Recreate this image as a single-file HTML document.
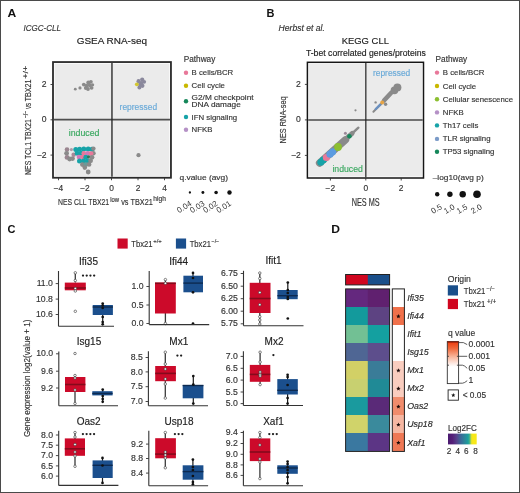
<!DOCTYPE html>
<html><head><meta charset="utf-8"><style>
html,body{margin:0;padding:0;background:#fff;}
svg{display:block;font-family:"Liberation Sans", sans-serif;will-change:transform;}
</style></head><body>
<svg width="520" height="493" viewBox="0 0 520 493">
<rect x="0" y="0" width="520" height="493" fill="#fff"/>
<text x="7.5" y="16.8" font-size="11" fill="#111" font-weight="bold" transform="translate(-0.75,0) scale(1.1,1)">A</text>
<text x="23.6" y="30.8" font-size="8.5" fill="#333" stroke="#333" stroke-width="0.15" font-style="italic" textLength="37.3" lengthAdjust="spacingAndGlyphs">ICGC-CLL</text>
<text x="76.7" y="44.2" font-size="9.5" fill="#222" stroke="#222" stroke-width="0.15" textLength="70.3" lengthAdjust="spacingAndGlyphs">GSEA RNA-seq</text>
<rect x="54.6" y="63.65" width="114.74999999999999" height="112.5" fill="#ebebeb"/>
<circle cx="75.3" cy="89.2" r="1.4" fill="#8a8a8a"/>
<circle cx="80" cy="87.9" r="1.6" fill="#8a8a8a"/>
<circle cx="83.8" cy="84.6" r="1.9" fill="#8a8a8a"/>
<circle cx="85.8" cy="88" r="1.9" fill="#8a8a8a"/>
<circle cx="88.3" cy="82.4" r="2" fill="#8a8a8a"/>
<circle cx="89.8" cy="85.3" r="2" fill="#8a8a8a"/>
<circle cx="91.6" cy="87.8" r="1.9" fill="#8a8a8a"/>
<circle cx="88" cy="89" r="1.9" fill="#8a8a8a"/>
<circle cx="90.9" cy="81.8" r="1.9" fill="#8a8a8a"/>
<circle cx="86.6" cy="85.8" r="2" fill="#8a8a8a"/>
<circle cx="92.6" cy="84.8" r="1.6" fill="#8a8a8a"/>
<circle cx="138.6" cy="81.2" r="2.1" fill="#8a889c"/>
<circle cx="142.2" cy="79.6" r="2.1" fill="#8a889c"/>
<circle cx="144.2" cy="81.8" r="1.9" fill="#8a889c"/>
<circle cx="140.4" cy="84.4" r="2.3" fill="#8a889c"/>
<circle cx="142.4" cy="85.8" r="2.1" fill="#8a889c"/>
<circle cx="139.4" cy="87.4" r="2" fill="#8a889c"/>
<circle cx="141.5" cy="83" r="2" fill="#8a889c"/>
<circle cx="136.8" cy="84.3" r="1.9" fill="#d2c630"/>
<circle cx="67" cy="149.6" r="2.3" fill="#9a8590"/>
<circle cx="66.6" cy="153.3" r="2.4" fill="#8a8a8a"/>
<circle cx="67" cy="157.4" r="2.4" fill="#9a8590"/>
<circle cx="69.6" cy="159" r="2.4" fill="#8a8a8a"/>
<circle cx="72.6" cy="158.6" r="2.3" fill="#8a8a8a"/>
<circle cx="73.6" cy="154.8" r="2.2" fill="#a88898"/>
<circle cx="71.4" cy="149.6" r="1.6" fill="#b09aa8"/>
<circle cx="75.8" cy="149.4" r="2.5" fill="#17a3a8"/>
<circle cx="79.6" cy="149.2" r="2.5" fill="#17a3a8"/>
<circle cx="83.8" cy="149" r="2.5" fill="#17a3a8"/>
<circle cx="88.2" cy="149" r="2.5" fill="#17a3a8"/>
<circle cx="92" cy="149.2" r="2.5" fill="#17a3a8"/>
<circle cx="93.4" cy="148.6" r="2.2" fill="#8a8a8a"/>
<circle cx="93.4" cy="153.3" r="2.3" fill="#8a8a8a"/>
<circle cx="77.2" cy="153.2" r="2.5" fill="#17a3a8"/>
<circle cx="81" cy="153.2" r="2.5" fill="#17a3a8"/>
<circle cx="83.8" cy="153.4" r="2.4" fill="#e8789a"/>
<circle cx="87.7" cy="153.4" r="2.4" fill="#d07ab8"/>
<circle cx="91" cy="153.6" r="2.4" fill="#e8789a"/>
<circle cx="79" cy="157.1" r="2.4" fill="#d07ab8"/>
<circle cx="82.9" cy="157.1" r="2.4" fill="#e8789a"/>
<circle cx="85.8" cy="157.2" r="2.4" fill="#17a3a8"/>
<circle cx="88.7" cy="157" r="1.8" fill="#2a7a5a"/>
<circle cx="92" cy="157.3" r="2.4" fill="#8a8a8a"/>
<circle cx="79.5" cy="161" r="2.5" fill="#17a3a8"/>
<circle cx="83.4" cy="161" r="2.5" fill="#17a3a8"/>
<circle cx="87.2" cy="161" r="2.5" fill="#17a3a8"/>
<circle cx="90.6" cy="160.8" r="2.4" fill="#8a8a8a"/>
<circle cx="82.4" cy="164.6" r="2.4" fill="#8a8a8a"/>
<circle cx="85.8" cy="164.6" r="2.4" fill="#6a9a98"/>
<circle cx="89.1" cy="164.4" r="2.3" fill="#8a8a8a"/>
<circle cx="84.8" cy="167.6" r="2.3" fill="#8a8a8a"/>
<circle cx="88.2" cy="172" r="2.4" fill="#8a8a8a"/>
<circle cx="138.5" cy="155.2" r="2.1" fill="#8a8a8a"/>
<g stroke="#222" stroke-opacity="0.78" stroke-width="1.7"><line x1="111.95" y1="63" x2="111.95" y2="176.8"/><line x1="54" y1="119.7" x2="170" y2="119.7"/></g>
<rect x="53" y="62.05" width="117.94999999999999" height="115.7" fill="none" stroke="#2a2a2a" stroke-width="1.8"/>
<text x="119.6" y="110" font-size="8.5" fill="#6aaad8" stroke="#6aaad8" stroke-width="0.15" textLength="37.5" lengthAdjust="spacingAndGlyphs">repressed</text>
<text x="68.7" y="135.6" font-size="8.5" fill="#3aa860" stroke="#3aa860" stroke-width="0.15" textLength="30.7" lengthAdjust="spacingAndGlyphs">induced</text>
<line x1="58.5" y1="177.75" x2="58.5" y2="180.25" stroke="#333" stroke-width="0.9"/>
<text x="58.5" y="191.1" font-size="8.4" fill="#333" stroke="#333" stroke-width="0.15" text-anchor="middle">−4</text>
<line x1="85.0" y1="177.75" x2="85.0" y2="180.25" stroke="#333" stroke-width="0.9"/>
<text x="85.0" y="191.1" font-size="8.4" fill="#333" stroke="#333" stroke-width="0.15" text-anchor="middle">−2</text>
<line x1="111.5" y1="177.75" x2="111.5" y2="180.25" stroke="#333" stroke-width="0.9"/>
<text x="111.5" y="191.1" font-size="8.4" fill="#333" stroke="#333" stroke-width="0.15" text-anchor="middle">0</text>
<line x1="138.0" y1="177.75" x2="138.0" y2="180.25" stroke="#333" stroke-width="0.9"/>
<text x="138.0" y="191.1" font-size="8.4" fill="#333" stroke="#333" stroke-width="0.15" text-anchor="middle">2</text>
<line x1="164.5" y1="177.75" x2="164.5" y2="180.25" stroke="#333" stroke-width="0.9"/>
<text x="164.5" y="191.1" font-size="8.4" fill="#333" stroke="#333" stroke-width="0.15" text-anchor="middle">4</text>
<line x1="50.5" y1="84.5" x2="53" y2="84.5" stroke="#333" stroke-width="0.9"/>
<text x="46.5" y="87.0" font-size="8.6" fill="#333" stroke="#333" stroke-width="0.15" text-anchor="end">2</text>
<line x1="50.5" y1="119.8" x2="53" y2="119.8" stroke="#333" stroke-width="0.9"/>
<text x="46.5" y="122.3" font-size="8.6" fill="#333" stroke="#333" stroke-width="0.15" text-anchor="end">0</text>
<line x1="50.5" y1="155.1" x2="53" y2="155.1" stroke="#333" stroke-width="0.9"/>
<text x="46.5" y="157.6" font-size="8.6" fill="#333" stroke="#333" stroke-width="0.15" text-anchor="end">−2</text>
<text x="58.0" y="205.4" font-size="9.8" fill="#333" stroke="#333" stroke-width="0.15" textLength="51.2" lengthAdjust="spacingAndGlyphs">NES CLL TBX21</text>
<text x="110.2" y="201.7" font-size="6.6" fill="#333" stroke="#333" stroke-width="0.15" textLength="8.9" lengthAdjust="spacingAndGlyphs">low</text>
<text x="121.2" y="205.4" font-size="9.8" fill="#333" stroke="#333" stroke-width="0.15" textLength="31.6" lengthAdjust="spacingAndGlyphs">vs TBX21</text>
<text x="153.3" y="201.2" font-size="6.6" fill="#333" stroke="#333" stroke-width="0.15" textLength="12.6" lengthAdjust="spacingAndGlyphs">high</text>
<g transform="translate(31.4,174.9) rotate(-90)" fill="#333" stroke="#333" stroke-width="0.15"><text x="0" y="0" font-size="9.9" textLength="55.8" lengthAdjust="spacingAndGlyphs">NES TCL1 TBX21</text><text x="56.6" y="-3.4" font-size="7" textLength="7.4" lengthAdjust="spacingAndGlyphs">−/−</text><text x="65.8" y="0" font-size="9.9" textLength="6.2" lengthAdjust="spacingAndGlyphs">vs</text><text x="73.6" y="0" font-size="9.9" textLength="21.8" lengthAdjust="spacingAndGlyphs">TBX21</text><text x="96.2" y="-3.4" font-size="7" textLength="13" lengthAdjust="spacingAndGlyphs">+/+</text></g>
<text x="183.7" y="62.4" font-size="8.5" fill="#333" stroke="#333" stroke-width="0.15" textLength="31.6" lengthAdjust="spacingAndGlyphs">Pathway</text>
<circle cx="186" cy="72.8" r="2.2" fill="#e8789a"/>
<text x="191.6" y="75.3" font-size="7.8" fill="#333" stroke="#333" stroke-width="0.15">B cells/BCR</text>
<circle cx="186" cy="85.8" r="2.2" fill="#c9b800"/>
<text x="191.6" y="88.3" font-size="7.8" fill="#333" stroke="#333" stroke-width="0.15">Cell cycle</text>
<circle cx="186" cy="101.3" r="2.2" fill="#15875a"/>
<circle cx="186" cy="117" r="2.2" fill="#17a3a8"/>
<text x="191.6" y="119.5" font-size="7.8" fill="#333" stroke="#333" stroke-width="0.15">IFN signaling</text>
<circle cx="186" cy="129.8" r="2.2" fill="#b591c6"/>
<text x="191.6" y="132.3" font-size="7.8" fill="#333" stroke="#333" stroke-width="0.15">NFKB</text>
<text x="191.6" y="99.8" font-size="7.9" fill="#333" stroke="#333" stroke-width="0.15" textLength="62" lengthAdjust="spacingAndGlyphs">G2/M checkpoint</text>
<text x="191.6" y="107.3" font-size="7.9" fill="#333" stroke="#333" stroke-width="0.15" textLength="49.2" lengthAdjust="spacingAndGlyphs">DNA damage</text>
<text x="179.5" y="179.8" font-size="8" fill="#333" stroke="#333" stroke-width="0.15" textLength="48.5" lengthAdjust="spacingAndGlyphs">q.value (avg)</text>
<circle cx="189.9" cy="192.5" r="1.15" fill="#111"/>
<text transform="translate(192.20000000000002,205) rotate(-32)" font-size="8" fill="#333" text-anchor="end">0.04</text>
<circle cx="202.9" cy="192.5" r="1.45" fill="#111"/>
<text transform="translate(205.20000000000002,205) rotate(-32)" font-size="8" fill="#333" text-anchor="end">0.03</text>
<circle cx="216.1" cy="192.5" r="1.8" fill="#111"/>
<text transform="translate(218.4,205) rotate(-32)" font-size="8" fill="#333" text-anchor="end">0.02</text>
<circle cx="229.5" cy="192.5" r="2.2" fill="#111"/>
<text transform="translate(231.8,205) rotate(-32)" font-size="8" fill="#333" text-anchor="end">0.01</text>
<text x="266.6" y="16.7" font-size="11" fill="#111" font-weight="bold">B</text>
<text x="278.6" y="30.9" font-size="8.8" fill="#333" stroke="#333" stroke-width="0.15" font-style="italic" textLength="46.3" lengthAdjust="spacingAndGlyphs">Herbst et al.</text>
<text x="341.7" y="44" font-size="9.5" fill="#222" stroke="#222" stroke-width="0.15" textLength="47.2" lengthAdjust="spacingAndGlyphs">KEGG CLL</text>
<text x="305.9" y="56.4" font-size="8.5" fill="#222" stroke="#222" stroke-width="0.15" textLength="120" lengthAdjust="spacingAndGlyphs">T-bet correlated genes/proteins</text>
<rect x="308.9" y="63.8" width="113.10000000000002" height="112.7" fill="#ebebeb"/>
<path d="M319.6 163 L345.5 139.8" stroke="#8a8a8a" stroke-width="7.4" stroke-linecap="round" fill="none"/>
<path d="M343 141.5 L352.2 133.4" stroke="#8a8a8a" stroke-width="4.8" stroke-linecap="round" fill="none"/>
<path d="M350 135.5 L358.4 127.7" stroke="#8a8a8a" stroke-width="2.4" stroke-linecap="round" fill="none"/>
<circle cx="320.8" cy="162.2" r="3.5" fill="#17a3a8"/>
<circle cx="323.2" cy="160" r="3.6" fill="#17a3a8"/>
<circle cx="326.4" cy="157.5" r="3.6" fill="#e8789a"/>
<circle cx="330" cy="154.2" r="3.6" fill="#5b9be0"/>
<circle cx="332.6" cy="151.8" r="3.6" fill="#5b9be0"/>
<circle cx="338" cy="147" r="3.9" fill="#8cbf30"/>
<circle cx="349.4" cy="136.3" r="2.3" fill="#15875a"/>
<circle cx="345.4" cy="133.3" r="1.5" fill="#9a8898"/>
<path d="M373.4 111.8 L384 101" stroke="#8a8a8a" stroke-width="2" stroke-linecap="round" fill="none"/>
<path d="M375.8 109 L380.5 104.4" stroke="#6a90c0" stroke-width="2.4" stroke-linecap="round" fill="none"/>
<path d="M384 100.5 L391 93" stroke="#8a8a8a" stroke-width="4.6" stroke-linecap="round" fill="none"/>
<circle cx="385.6" cy="104.2" r="1.7" fill="#8a8a8a"/>
<circle cx="382.2" cy="102.4" r="2.0" fill="#e6a445"/>
<circle cx="394.4" cy="90.4" r="3.8" fill="#8a8a8a"/>
<circle cx="397.4" cy="87.5" r="4.0" fill="#8a8a8a"/>
<circle cx="375.6" cy="102.4" r="1.2" fill="#8a8a8a"/>
<circle cx="355.5" cy="110.3" r="1.1" fill="#8a8a8a"/>
<g stroke="#222" stroke-opacity="0.8" stroke-width="1.5"><line x1="365.8" y1="63" x2="365.8" y2="177.2"/><line x1="308.2" y1="120.0" x2="422.7" y2="120.0"/></g>
<rect x="307.4" y="62.3" width="116.10000000000002" height="115.7" fill="none" stroke="#151515" stroke-width="1.5"/>
<text x="373" y="76" font-size="8.5" fill="#6aaad8" stroke="#6aaad8" stroke-width="0.15" textLength="37.3" lengthAdjust="spacingAndGlyphs">repressed</text>
<text x="332.4" y="172" font-size="8.5" fill="#3aa860" stroke="#3aa860" stroke-width="0.15" textLength="30.5" lengthAdjust="spacingAndGlyphs">induced</text>
<line x1="330.40000000000003" y1="178" x2="330.40000000000003" y2="180.5" stroke="#333" stroke-width="0.9"/>
<text x="330.40000000000003" y="191.1" font-size="8.4" fill="#333" stroke="#333" stroke-width="0.15" text-anchor="middle">−2</text>
<line x1="365.8" y1="178" x2="365.8" y2="180.5" stroke="#333" stroke-width="0.9"/>
<text x="365.8" y="191.1" font-size="8.4" fill="#333" stroke="#333" stroke-width="0.15" text-anchor="middle">0</text>
<line x1="401.2" y1="178" x2="401.2" y2="180.5" stroke="#333" stroke-width="0.9"/>
<text x="401.2" y="191.1" font-size="8.4" fill="#333" stroke="#333" stroke-width="0.15" text-anchor="middle">2</text>
<line x1="304.9" y1="84.4" x2="307.4" y2="84.4" stroke="#333" stroke-width="0.9"/>
<text x="300.8" y="86.9" font-size="8.6" fill="#333" stroke="#333" stroke-width="0.15" text-anchor="end">2</text>
<line x1="304.9" y1="119.9" x2="307.4" y2="119.9" stroke="#333" stroke-width="0.9"/>
<text x="300.8" y="122.4" font-size="8.6" fill="#333" stroke="#333" stroke-width="0.15" text-anchor="end">0</text>
<line x1="304.9" y1="155.4" x2="307.4" y2="155.4" stroke="#333" stroke-width="0.9"/>
<text x="300.8" y="157.9" font-size="8.6" fill="#333" stroke="#333" stroke-width="0.15" text-anchor="end">−2</text>
<text x="365.7" y="206" font-size="10.3" fill="#333" stroke="#333" stroke-width="0.15" text-anchor="middle" textLength="28" lengthAdjust="spacingAndGlyphs">NES MS</text>
<text transform="translate(286.2,143.4) rotate(-90)" font-size="9.6" fill="#333" stroke="#333" stroke-width="0.15" textLength="47" lengthAdjust="spacingAndGlyphs">NES RNA-seq</text>
<text x="435.6" y="62" font-size="8.5" fill="#333" stroke="#333" stroke-width="0.15" textLength="31.6" lengthAdjust="spacingAndGlyphs">Pathway</text>
<circle cx="437" cy="72.6" r="2.2" fill="#e8789a"/>
<text x="442.8" y="75.1" font-size="7.8" fill="#333" stroke="#333" stroke-width="0.15">B cells/BCR</text>
<circle cx="437" cy="86" r="2.2" fill="#c9b800"/>
<text x="442.8" y="88.5" font-size="7.8" fill="#333" stroke="#333" stroke-width="0.15">Cell cycle</text>
<circle cx="437" cy="99.3" r="2.2" fill="#8cbf30"/>
<text x="442.8" y="101.8" font-size="7.8" fill="#333" stroke="#333" stroke-width="0.15">Cellular senescence</text>
<circle cx="437" cy="112.4" r="2.2" fill="#b591c6"/>
<text x="442.8" y="114.9" font-size="7.8" fill="#333" stroke="#333" stroke-width="0.15">NFKB</text>
<circle cx="437" cy="125.4" r="2.2" fill="#17a3a8"/>
<text x="442.8" y="127.9" font-size="7.8" fill="#333" stroke="#333" stroke-width="0.15">Th17 cells</text>
<circle cx="437" cy="138.9" r="2.2" fill="#7b9bc8"/>
<text x="442.8" y="141.4" font-size="7.8" fill="#333" stroke="#333" stroke-width="0.15">TLR signaling</text>
<circle cx="437" cy="151.8" r="2.2" fill="#15875a"/>
<text x="442.8" y="154.3" font-size="7.8" fill="#333" stroke="#333" stroke-width="0.15">TP53 signaling</text>
<text x="432.7" y="179.7" font-size="8" fill="#333" stroke="#333" stroke-width="0.15" textLength="51" lengthAdjust="spacingAndGlyphs">–log10(avg p)</text>
<circle cx="437.2" cy="194.2" r="2.2" fill="#111"/>
<text transform="translate(442.7,208.5) rotate(-30)" font-size="8" fill="#333" text-anchor="end">0.5</text>
<circle cx="449.9" cy="194.2" r="2.7" fill="#111"/>
<text transform="translate(455.4,208.5) rotate(-30)" font-size="8" fill="#333" text-anchor="end">1.0</text>
<circle cx="462.7" cy="194.2" r="3.2" fill="#111"/>
<text transform="translate(468.2,208.5) rotate(-30)" font-size="8" fill="#333" text-anchor="end">1.5</text>
<circle cx="477" cy="194.2" r="3.8" fill="#111"/>
<text transform="translate(482.5,208.5) rotate(-30)" font-size="8" fill="#333" text-anchor="end">2.0</text>
<text x="7.5" y="233.3" font-size="11" fill="#111" font-weight="bold">C</text>
<rect x="117.5" y="238.5" width="10.2" height="10.1" fill="#cc0a2a"/>
<text x="131.3" y="246.6" font-size="8.6" fill="#333" stroke="#333" stroke-width="0.15" textLength="21.2" lengthAdjust="spacingAndGlyphs">Tbx21</text>
<text x="153.2" y="243.4" font-size="6" fill="#333" stroke="#333" stroke-width="0.15" textLength="8.6" lengthAdjust="spacingAndGlyphs">+/+</text>
<rect x="175.9" y="238.5" width="10.2" height="10.1" fill="#1b4f8d"/>
<text x="189.7" y="246.6" font-size="8.6" fill="#333" stroke="#333" stroke-width="0.15" textLength="21.2" lengthAdjust="spacingAndGlyphs">Tbx21</text>
<text x="211.6" y="243.4" font-size="6" fill="#333" stroke="#333" stroke-width="0.15" textLength="7.6" lengthAdjust="spacingAndGlyphs">−/−</text>
<text transform="translate(30.1,378.2) rotate(-90)" font-size="8.5" fill="#333" stroke="#333" stroke-width="0.15" text-anchor="middle" textLength="117.5" lengthAdjust="spacingAndGlyphs">Gene expression log2(value + 1)</text>
<text x="88.5" y="264.6" font-size="10" fill="#222" stroke="#222" stroke-width="0.15" text-anchor="middle">Ifi35</text>
<line x1="55.7" y1="283.6" x2="58.5" y2="283.6" stroke="#333" stroke-width="0.9"/>
<text x="52.9" y="286.20000000000005" font-size="8.7" fill="#333" stroke="#333" stroke-width="0.15" text-anchor="end">11.0</text>
<line x1="55.7" y1="299.1" x2="58.5" y2="299.1" stroke="#333" stroke-width="0.9"/>
<text x="52.9" y="301.70000000000005" font-size="8.7" fill="#333" stroke="#333" stroke-width="0.15" text-anchor="end">10.8</text>
<line x1="55.7" y1="314.5" x2="58.5" y2="314.5" stroke="#333" stroke-width="0.9"/>
<text x="52.9" y="317.1" font-size="8.7" fill="#333" stroke="#333" stroke-width="0.15" text-anchor="end">10.6</text>
<line x1="75.3" y1="272.8" x2="75.3" y2="282.6" stroke="#3a3a3a" stroke-width="1.3"/>
<rect x="64.8" y="282.6" width="21.0" height="7.699999999999989" fill="#cc0a2a"/>
<line x1="64.8" y1="288" x2="85.8" y2="288" stroke="#850a1c" stroke-width="1.6"/>
<circle cx="75.3" cy="272.8" r="1.25" fill="#fff" stroke="#333" stroke-width="0.6"/>
<circle cx="75.3" cy="280.5" r="1.25" fill="#fff" stroke="#333" stroke-width="0.6"/>
<circle cx="75.3" cy="288.5" r="1.25" fill="#fff" stroke="#333" stroke-width="0.6"/>
<circle cx="75.3" cy="291" r="1.25" fill="#fff" stroke="#333" stroke-width="0.6"/>
<circle cx="75.3" cy="311.3" r="1.25" fill="#fff" stroke="#333" stroke-width="0.6"/>
<line x1="102.7" y1="303" x2="102.7" y2="324.3" stroke="#1a1a1a" stroke-width="1.2"/>
<rect x="92.7" y="305" width="20.200000000000003" height="10" fill="#1b4f8d"/>
<line x1="92.7" y1="307" x2="112.9" y2="307" stroke="#0d2a50" stroke-width="1.4"/>
<circle cx="102.7" cy="303.5" r="1.35" fill="#111"/>
<circle cx="102.7" cy="305.5" r="1.35" fill="#111"/>
<circle cx="102.7" cy="308" r="1.35" fill="#111"/>
<circle cx="102.7" cy="317" r="1.35" fill="#111"/>
<circle cx="102.7" cy="322" r="1.35" fill="#111"/>
<circle cx="102.7" cy="324.3" r="1.35" fill="#111"/>
<line x1="58.5" y1="271" x2="58.5" y2="326.3" stroke="#333" stroke-width="1.1"/>
<line x1="58.5" y1="326.3" x2="114" y2="326.3" stroke="#333" stroke-width="1.1"/>
<circle cx="83.0" cy="275.6" r="1.15" fill="#1e1e1e"/>
<circle cx="86.72" cy="275.6" r="1.15" fill="#1e1e1e"/>
<circle cx="90.44" cy="275.6" r="1.15" fill="#1e1e1e"/>
<circle cx="94.16" cy="275.6" r="1.15" fill="#1e1e1e"/>
<text x="178.6" y="264.6" font-size="10" fill="#222" stroke="#222" stroke-width="0.15" text-anchor="middle">Ifi44</text>
<line x1="146.39999999999998" y1="286.5" x2="149.2" y2="286.5" stroke="#333" stroke-width="0.9"/>
<text x="143.6" y="289.1" font-size="8.7" fill="#333" stroke="#333" stroke-width="0.15" text-anchor="end">1.0</text>
<line x1="146.39999999999998" y1="305" x2="149.2" y2="305" stroke="#333" stroke-width="0.9"/>
<text x="143.6" y="307.6" font-size="8.7" fill="#333" stroke="#333" stroke-width="0.15" text-anchor="end">0.5</text>
<line x1="146.39999999999998" y1="323.5" x2="149.2" y2="323.5" stroke="#333" stroke-width="0.9"/>
<text x="143.6" y="326.1" font-size="8.7" fill="#333" stroke="#333" stroke-width="0.15" text-anchor="end">0.0</text>
<line x1="165.4" y1="279.6" x2="165.4" y2="323.5" stroke="#3a3a3a" stroke-width="1.3"/>
<rect x="155" y="282.6" width="20.80000000000001" height="30.899999999999977" fill="#cc0a2a"/>
<line x1="155" y1="283.3" x2="175.8" y2="283.3" stroke="#850a1c" stroke-width="1.6"/>
<circle cx="165.4" cy="279.6" r="1.25" fill="#fff" stroke="#333" stroke-width="0.6"/>
<circle cx="165.4" cy="283.3" r="1.25" fill="#fff" stroke="#333" stroke-width="0.6"/>
<circle cx="165.4" cy="323.5" r="1.25" fill="#fff" stroke="#333" stroke-width="0.6"/>
<line x1="193" y1="272.7" x2="193" y2="292.3" stroke="#1a1a1a" stroke-width="1.2"/>
<rect x="183.4" y="275.7" width="19.599999999999994" height="16.600000000000023" fill="#1b4f8d"/>
<line x1="183.4" y1="283.1" x2="203" y2="283.1" stroke="#0d2a50" stroke-width="1.4"/>
<circle cx="193" cy="272.9" r="1.35" fill="#111"/>
<circle cx="193" cy="278" r="1.35" fill="#111"/>
<circle cx="193" cy="292.3" r="1.35" fill="#111"/>
<circle cx="193" cy="323.5" r="1.35" fill="#111"/>
<line x1="149.2" y1="271" x2="149.2" y2="324.6" stroke="#333" stroke-width="1.1"/>
<line x1="149.2" y1="324.6" x2="209.2" y2="324.6" stroke="#333" stroke-width="1.1"/>
<text x="273.5" y="264.3" font-size="10" fill="#222" stroke="#222" stroke-width="0.15" text-anchor="middle">Ifit1</text>
<line x1="240.7" y1="273.5" x2="243.5" y2="273.5" stroke="#333" stroke-width="0.9"/>
<text x="237.9" y="276.1" font-size="8.7" fill="#333" stroke="#333" stroke-width="0.15" text-anchor="end">6.75</text>
<line x1="240.7" y1="286.2" x2="243.5" y2="286.2" stroke="#333" stroke-width="0.9"/>
<text x="237.9" y="288.8" font-size="8.7" fill="#333" stroke="#333" stroke-width="0.15" text-anchor="end">6.50</text>
<line x1="240.7" y1="298.7" x2="243.5" y2="298.7" stroke="#333" stroke-width="0.9"/>
<text x="237.9" y="301.3" font-size="8.7" fill="#333" stroke="#333" stroke-width="0.15" text-anchor="end">6.25</text>
<line x1="240.7" y1="311.2" x2="243.5" y2="311.2" stroke="#333" stroke-width="0.9"/>
<text x="237.9" y="313.8" font-size="8.7" fill="#333" stroke="#333" stroke-width="0.15" text-anchor="end">6.00</text>
<line x1="240.7" y1="323.8" x2="243.5" y2="323.8" stroke="#333" stroke-width="0.9"/>
<text x="237.9" y="326.40000000000003" font-size="8.7" fill="#333" stroke="#333" stroke-width="0.15" text-anchor="end">5.75</text>
<line x1="259.8" y1="273" x2="259.8" y2="324.5" stroke="#3a3a3a" stroke-width="1.3"/>
<rect x="249.7" y="282.8" width="20.80000000000001" height="30.19999999999999" fill="#cc0a2a"/>
<line x1="249.7" y1="298.5" x2="270.5" y2="298.5" stroke="#850a1c" stroke-width="1.6"/>
<circle cx="259.8" cy="273" r="1.25" fill="#fff" stroke="#333" stroke-width="0.6"/>
<circle cx="259.8" cy="278.5" r="1.25" fill="#fff" stroke="#333" stroke-width="0.6"/>
<circle cx="259.8" cy="292.5" r="1.25" fill="#fff" stroke="#333" stroke-width="0.6"/>
<circle cx="259.8" cy="304.7" r="1.25" fill="#fff" stroke="#333" stroke-width="0.6"/>
<circle cx="259.8" cy="316.7" r="1.25" fill="#fff" stroke="#333" stroke-width="0.6"/>
<circle cx="259.8" cy="320" r="1.25" fill="#fff" stroke="#333" stroke-width="0.6"/>
<circle cx="259.8" cy="324" r="1.25" fill="#fff" stroke="#333" stroke-width="0.6"/>
<line x1="287.8" y1="282.5" x2="287.8" y2="299.2" stroke="#1a1a1a" stroke-width="1.2"/>
<rect x="277.4" y="290" width="20.30000000000001" height="9.199999999999989" fill="#1b4f8d"/>
<line x1="277.4" y1="295.7" x2="297.7" y2="295.7" stroke="#0d2a50" stroke-width="1.4"/>
<circle cx="287.8" cy="282.5" r="1.35" fill="#111"/>
<circle cx="287.8" cy="290" r="1.35" fill="#111"/>
<circle cx="287.8" cy="293" r="1.35" fill="#111"/>
<circle cx="287.8" cy="297" r="1.35" fill="#111"/>
<circle cx="287.8" cy="299" r="1.35" fill="#111"/>
<circle cx="287.8" cy="318.5" r="1.35" fill="#111"/>
<line x1="243.5" y1="270.8" x2="243.5" y2="325.7" stroke="#333" stroke-width="1.1"/>
<line x1="243.5" y1="325.7" x2="303.5" y2="325.7" stroke="#333" stroke-width="1.1"/>
<text x="89" y="344.6" font-size="10" fill="#222" stroke="#222" stroke-width="0.15" text-anchor="middle">Isg15</text>
<line x1="56.0" y1="353.8" x2="58.8" y2="353.8" stroke="#333" stroke-width="0.9"/>
<text x="53.199999999999996" y="356.40000000000003" font-size="8.7" fill="#333" stroke="#333" stroke-width="0.15" text-anchor="end">10.0</text>
<line x1="56.0" y1="371.2" x2="58.8" y2="371.2" stroke="#333" stroke-width="0.9"/>
<text x="53.199999999999996" y="373.8" font-size="8.7" fill="#333" stroke="#333" stroke-width="0.15" text-anchor="end">9.6</text>
<line x1="56.0" y1="388" x2="58.8" y2="388" stroke="#333" stroke-width="0.9"/>
<text x="53.199999999999996" y="390.6" font-size="8.7" fill="#333" stroke="#333" stroke-width="0.15" text-anchor="end">9.2</text>
<line x1="75" y1="375.3" x2="75" y2="403.5" stroke="#3a3a3a" stroke-width="1.3"/>
<rect x="65" y="377" width="20.400000000000006" height="15" fill="#cc0a2a"/>
<line x1="65" y1="384.5" x2="85.4" y2="384.5" stroke="#850a1c" stroke-width="1.6"/>
<circle cx="75" cy="353.5" r="1.25" fill="#fff" stroke="#333" stroke-width="0.6"/>
<circle cx="75" cy="375.5" r="1.25" fill="#fff" stroke="#333" stroke-width="0.6"/>
<circle cx="75" cy="378" r="1.25" fill="#fff" stroke="#333" stroke-width="0.6"/>
<circle cx="75" cy="390" r="1.25" fill="#fff" stroke="#333" stroke-width="0.6"/>
<circle cx="75" cy="403.5" r="1.25" fill="#fff" stroke="#333" stroke-width="0.6"/>
<line x1="102.7" y1="389.6" x2="102.7" y2="401.8" stroke="#1a1a1a" stroke-width="1.2"/>
<rect x="92.3" y="391.2" width="20.299999999999997" height="4.199999999999989" fill="#1b4f8d"/>
<line x1="92.3" y1="393.5" x2="112.6" y2="393.5" stroke="#0d2a50" stroke-width="1.4"/>
<circle cx="102.7" cy="389.6" r="1.35" fill="#111"/>
<circle cx="102.7" cy="396" r="1.35" fill="#111"/>
<circle cx="102.7" cy="399" r="1.35" fill="#111"/>
<circle cx="102.7" cy="401.8" r="1.35" fill="#111"/>
<line x1="58.8" y1="351.5" x2="58.8" y2="405.8" stroke="#333" stroke-width="1.1"/>
<line x1="58.8" y1="405.8" x2="118" y2="405.8" stroke="#333" stroke-width="1.1"/>
<text x="178.8" y="344.8" font-size="10" fill="#222" stroke="#222" stroke-width="0.15" text-anchor="middle">Mx1</text>
<line x1="145.6" y1="357.5" x2="148.4" y2="357.5" stroke="#333" stroke-width="0.9"/>
<text x="142.8" y="360.1" font-size="8.7" fill="#333" stroke="#333" stroke-width="0.15" text-anchor="end">8.5</text>
<line x1="145.6" y1="371.9" x2="148.4" y2="371.9" stroke="#333" stroke-width="0.9"/>
<text x="142.8" y="374.5" font-size="8.7" fill="#333" stroke="#333" stroke-width="0.15" text-anchor="end">8.0</text>
<line x1="145.6" y1="386.7" x2="148.4" y2="386.7" stroke="#333" stroke-width="0.9"/>
<text x="142.8" y="389.3" font-size="8.7" fill="#333" stroke="#333" stroke-width="0.15" text-anchor="end">7.5</text>
<line x1="145.6" y1="401.5" x2="148.4" y2="401.5" stroke="#333" stroke-width="0.9"/>
<text x="142.8" y="404.1" font-size="8.7" fill="#333" stroke="#333" stroke-width="0.15" text-anchor="end">7.0</text>
<line x1="165.3" y1="352.2" x2="165.3" y2="398.1" stroke="#3a3a3a" stroke-width="1.3"/>
<rect x="155.2" y="366" width="20.700000000000017" height="15.199999999999989" fill="#cc0a2a"/>
<line x1="155.2" y1="373.4" x2="175.9" y2="373.4" stroke="#850a1c" stroke-width="1.6"/>
<circle cx="165.3" cy="352.2" r="1.25" fill="#fff" stroke="#333" stroke-width="0.6"/>
<circle cx="165.3" cy="364" r="1.25" fill="#fff" stroke="#333" stroke-width="0.6"/>
<circle cx="165.3" cy="369" r="1.25" fill="#fff" stroke="#333" stroke-width="0.6"/>
<circle cx="165.3" cy="379" r="1.25" fill="#fff" stroke="#333" stroke-width="0.6"/>
<circle cx="165.3" cy="384" r="1.25" fill="#fff" stroke="#333" stroke-width="0.6"/>
<circle cx="165.3" cy="398.1" r="1.25" fill="#fff" stroke="#333" stroke-width="0.6"/>
<line x1="193.3" y1="376.1" x2="193.3" y2="403.6" stroke="#1a1a1a" stroke-width="1.2"/>
<rect x="182.7" y="385" width="20.700000000000017" height="13.300000000000011" fill="#1b4f8d"/>
<line x1="182.7" y1="385.5" x2="203.4" y2="385.5" stroke="#0d2a50" stroke-width="1.4"/>
<circle cx="193.3" cy="376.1" r="1.35" fill="#111"/>
<circle cx="193.3" cy="384.6" r="1.35" fill="#111"/>
<circle cx="193.3" cy="403.6" r="1.35" fill="#111"/>
<line x1="148.4" y1="351.2" x2="148.4" y2="405.7" stroke="#333" stroke-width="1.1"/>
<line x1="148.4" y1="405.7" x2="208" y2="405.7" stroke="#333" stroke-width="1.1"/>
<circle cx="177.4" cy="355.6" r="1.15" fill="#1e1e1e"/>
<circle cx="181.12" cy="355.6" r="1.15" fill="#1e1e1e"/>
<text x="274" y="344.8" font-size="10" fill="#222" stroke="#222" stroke-width="0.15" text-anchor="middle">Mx2</text>
<line x1="240.6" y1="356.4" x2="243.4" y2="356.4" stroke="#333" stroke-width="0.9"/>
<text x="237.8" y="359.0" font-size="8.7" fill="#333" stroke="#333" stroke-width="0.15" text-anchor="end">7.0</text>
<line x1="240.6" y1="368.3" x2="243.4" y2="368.3" stroke="#333" stroke-width="0.9"/>
<text x="237.8" y="370.90000000000003" font-size="8.7" fill="#333" stroke="#333" stroke-width="0.15" text-anchor="end">6.5</text>
<line x1="240.6" y1="380.1" x2="243.4" y2="380.1" stroke="#333" stroke-width="0.9"/>
<text x="237.8" y="382.70000000000005" font-size="8.7" fill="#333" stroke="#333" stroke-width="0.15" text-anchor="end">6.0</text>
<line x1="240.6" y1="392" x2="243.4" y2="392" stroke="#333" stroke-width="0.9"/>
<text x="237.8" y="394.6" font-size="8.7" fill="#333" stroke="#333" stroke-width="0.15" text-anchor="end">5.5</text>
<line x1="240.6" y1="403.6" x2="243.4" y2="403.6" stroke="#333" stroke-width="0.9"/>
<text x="237.8" y="406.20000000000005" font-size="8.7" fill="#333" stroke="#333" stroke-width="0.15" text-anchor="end">5.0</text>
<line x1="260.1" y1="352.2" x2="260.1" y2="384.6" stroke="#3a3a3a" stroke-width="1.3"/>
<rect x="249.8" y="364.9" width="20.5" height="16.900000000000034" fill="#cc0a2a"/>
<line x1="249.8" y1="374.4" x2="270.3" y2="374.4" stroke="#850a1c" stroke-width="1.6"/>
<circle cx="260.1" cy="352.2" r="1.25" fill="#fff" stroke="#333" stroke-width="0.6"/>
<circle cx="260.1" cy="362" r="1.25" fill="#fff" stroke="#333" stroke-width="0.6"/>
<circle cx="260.1" cy="372" r="1.25" fill="#fff" stroke="#333" stroke-width="0.6"/>
<circle cx="260.1" cy="374.5" r="1.25" fill="#fff" stroke="#333" stroke-width="0.6"/>
<circle cx="260.1" cy="376" r="1.25" fill="#fff" stroke="#333" stroke-width="0.6"/>
<circle cx="260.1" cy="384.6" r="1.25" fill="#fff" stroke="#333" stroke-width="0.6"/>
<line x1="287.6" y1="374.8" x2="287.6" y2="403.6" stroke="#1a1a1a" stroke-width="1.2"/>
<rect x="277.3" y="379.1" width="20.5" height="15.399999999999977" fill="#1b4f8d"/>
<line x1="277.3" y1="390.3" x2="297.8" y2="390.3" stroke="#0d2a50" stroke-width="1.4"/>
<circle cx="287.6" cy="374.8" r="1.35" fill="#111"/>
<circle cx="287.6" cy="377" r="1.35" fill="#111"/>
<circle cx="287.6" cy="385" r="1.35" fill="#111"/>
<circle cx="287.6" cy="398" r="1.35" fill="#111"/>
<circle cx="287.6" cy="403.6" r="1.35" fill="#111"/>
<line x1="243.4" y1="351.2" x2="243.4" y2="405.5" stroke="#333" stroke-width="1.1"/>
<line x1="243.4" y1="405.5" x2="303" y2="405.5" stroke="#333" stroke-width="1.1"/>
<circle cx="273.4" cy="355.1" r="1.15" fill="#1e1e1e"/>
<text x="88.7" y="424.5" font-size="10" fill="#222" stroke="#222" stroke-width="0.15" text-anchor="middle">Oas2</text>
<line x1="55.900000000000006" y1="435" x2="58.7" y2="435" stroke="#333" stroke-width="0.9"/>
<text x="53.1" y="437.6" font-size="8.7" fill="#333" stroke="#333" stroke-width="0.15" text-anchor="end">8.0</text>
<line x1="55.900000000000006" y1="445.2" x2="58.7" y2="445.2" stroke="#333" stroke-width="0.9"/>
<text x="53.1" y="447.8" font-size="8.7" fill="#333" stroke="#333" stroke-width="0.15" text-anchor="end">7.5</text>
<line x1="55.900000000000006" y1="455.6" x2="58.7" y2="455.6" stroke="#333" stroke-width="0.9"/>
<text x="53.1" y="458.20000000000005" font-size="8.7" fill="#333" stroke="#333" stroke-width="0.15" text-anchor="end">7.0</text>
<line x1="55.900000000000006" y1="465.9" x2="58.7" y2="465.9" stroke="#333" stroke-width="0.9"/>
<text x="53.1" y="468.5" font-size="8.7" fill="#333" stroke="#333" stroke-width="0.15" text-anchor="end">6.5</text>
<line x1="55.900000000000006" y1="476.1" x2="58.7" y2="476.1" stroke="#333" stroke-width="0.9"/>
<text x="53.1" y="478.70000000000005" font-size="8.7" fill="#333" stroke="#333" stroke-width="0.15" text-anchor="end">6.0</text>
<line x1="75" y1="432.5" x2="75" y2="466.3" stroke="#3a3a3a" stroke-width="1.3"/>
<rect x="64.8" y="438.4" width="20.200000000000003" height="17.400000000000034" fill="#cc0a2a"/>
<line x1="64.8" y1="448.8" x2="85" y2="448.8" stroke="#850a1c" stroke-width="1.6"/>
<circle cx="75" cy="432.5" r="1.25" fill="#fff" stroke="#333" stroke-width="0.6"/>
<circle cx="75" cy="437" r="1.25" fill="#fff" stroke="#333" stroke-width="0.6"/>
<circle cx="75" cy="444.5" r="1.25" fill="#fff" stroke="#333" stroke-width="0.6"/>
<circle cx="75" cy="452" r="1.25" fill="#fff" stroke="#333" stroke-width="0.6"/>
<circle cx="75" cy="456" r="1.25" fill="#fff" stroke="#333" stroke-width="0.6"/>
<circle cx="75" cy="466.3" r="1.25" fill="#fff" stroke="#333" stroke-width="0.6"/>
<line x1="102.5" y1="457.9" x2="102.5" y2="482.9" stroke="#1a1a1a" stroke-width="1.2"/>
<rect x="92.6" y="460.4" width="20.10000000000001" height="17.600000000000023" fill="#1b4f8d"/>
<line x1="92.6" y1="465.3" x2="112.7" y2="465.3" stroke="#0d2a50" stroke-width="1.4"/>
<circle cx="102.5" cy="457.9" r="1.35" fill="#111"/>
<circle cx="102.5" cy="465.5" r="1.35" fill="#111"/>
<circle cx="102.5" cy="482.9" r="1.35" fill="#111"/>
<line x1="58.7" y1="430.8" x2="58.7" y2="485.4" stroke="#333" stroke-width="1.1"/>
<line x1="58.7" y1="485.4" x2="118.4" y2="485.4" stroke="#333" stroke-width="1.1"/>
<circle cx="82.9" cy="434.1" r="1.15" fill="#1e1e1e"/>
<circle cx="86.62" cy="434.1" r="1.15" fill="#1e1e1e"/>
<circle cx="90.34" cy="434.1" r="1.15" fill="#1e1e1e"/>
<circle cx="94.06" cy="434.1" r="1.15" fill="#1e1e1e"/>
<text x="179" y="424.5" font-size="10" fill="#222" stroke="#222" stroke-width="0.15" text-anchor="middle">Usp18</text>
<line x1="146.0" y1="444.1" x2="148.8" y2="444.1" stroke="#333" stroke-width="0.9"/>
<text x="143.20000000000002" y="446.70000000000005" font-size="8.7" fill="#333" stroke="#333" stroke-width="0.15" text-anchor="end">9.2</text>
<line x1="146.0" y1="458.5" x2="148.8" y2="458.5" stroke="#333" stroke-width="0.9"/>
<text x="143.20000000000002" y="461.1" font-size="8.7" fill="#333" stroke="#333" stroke-width="0.15" text-anchor="end">8.8</text>
<line x1="146.0" y1="473.1" x2="148.8" y2="473.1" stroke="#333" stroke-width="0.9"/>
<text x="143.20000000000002" y="475.70000000000005" font-size="8.7" fill="#333" stroke="#333" stroke-width="0.15" text-anchor="end">8.4</text>
<line x1="165.3" y1="432.5" x2="165.3" y2="467.8" stroke="#3a3a3a" stroke-width="1.3"/>
<rect x="155.2" y="438.2" width="20.700000000000017" height="20.100000000000023" fill="#cc0a2a"/>
<line x1="155.2" y1="454.1" x2="175.9" y2="454.1" stroke="#850a1c" stroke-width="1.6"/>
<circle cx="165.3" cy="432.5" r="1.25" fill="#fff" stroke="#333" stroke-width="0.6"/>
<circle cx="165.3" cy="452" r="1.25" fill="#fff" stroke="#333" stroke-width="0.6"/>
<circle cx="165.3" cy="455" r="1.25" fill="#fff" stroke="#333" stroke-width="0.6"/>
<circle cx="165.3" cy="458" r="1.25" fill="#fff" stroke="#333" stroke-width="0.6"/>
<circle cx="165.3" cy="467.8" r="1.25" fill="#fff" stroke="#333" stroke-width="0.6"/>
<line x1="192.9" y1="459.6" x2="192.9" y2="484.3" stroke="#1a1a1a" stroke-width="1.2"/>
<rect x="182.7" y="465.3" width="20.700000000000017" height="14.399999999999977" fill="#1b4f8d"/>
<line x1="182.7" y1="471.6" x2="203.4" y2="471.6" stroke="#0d2a50" stroke-width="1.4"/>
<circle cx="192.9" cy="459.6" r="1.35" fill="#111"/>
<circle cx="192.9" cy="467" r="1.35" fill="#111"/>
<circle cx="192.9" cy="470" r="1.35" fill="#111"/>
<circle cx="192.9" cy="476" r="1.35" fill="#111"/>
<circle cx="192.9" cy="482" r="1.35" fill="#111"/>
<circle cx="192.9" cy="484.3" r="1.35" fill="#111"/>
<line x1="148.8" y1="430.8" x2="148.8" y2="485.8" stroke="#333" stroke-width="1.1"/>
<line x1="148.8" y1="485.8" x2="208.1" y2="485.8" stroke="#333" stroke-width="1.1"/>
<circle cx="174.9" cy="434.1" r="1.15" fill="#1e1e1e"/>
<circle cx="178.62" cy="434.1" r="1.15" fill="#1e1e1e"/>
<circle cx="182.34" cy="434.1" r="1.15" fill="#1e1e1e"/>
<text x="273.5" y="424.5" font-size="10" fill="#222" stroke="#222" stroke-width="0.15" text-anchor="middle">Xaf1</text>
<line x1="240.6" y1="432.5" x2="243.4" y2="432.5" stroke="#333" stroke-width="0.9"/>
<text x="237.8" y="435.1" font-size="8.7" fill="#333" stroke="#333" stroke-width="0.15" text-anchor="end">9.4</text>
<line x1="240.6" y1="443.5" x2="243.4" y2="443.5" stroke="#333" stroke-width="0.9"/>
<text x="237.8" y="446.1" font-size="8.7" fill="#333" stroke="#333" stroke-width="0.15" text-anchor="end">9.2</text>
<line x1="240.6" y1="454.3" x2="243.4" y2="454.3" stroke="#333" stroke-width="0.9"/>
<text x="237.8" y="456.90000000000003" font-size="8.7" fill="#333" stroke="#333" stroke-width="0.15" text-anchor="end">9.0</text>
<line x1="240.6" y1="464.9" x2="243.4" y2="464.9" stroke="#333" stroke-width="0.9"/>
<text x="237.8" y="467.5" font-size="8.7" fill="#333" stroke="#333" stroke-width="0.15" text-anchor="end">8.8</text>
<line x1="240.6" y1="475.4" x2="243.4" y2="475.4" stroke="#333" stroke-width="0.9"/>
<text x="237.8" y="478.0" font-size="8.7" fill="#333" stroke="#333" stroke-width="0.15" text-anchor="end">8.6</text>
<line x1="259.9" y1="432.5" x2="259.9" y2="478.6" stroke="#3a3a3a" stroke-width="1.3"/>
<rect x="249.8" y="438.4" width="20.5" height="22.700000000000045" fill="#cc0a2a"/>
<line x1="249.8" y1="452" x2="270.3" y2="452" stroke="#850a1c" stroke-width="1.6"/>
<circle cx="259.9" cy="432.5" r="1.25" fill="#fff" stroke="#333" stroke-width="0.6"/>
<circle cx="259.9" cy="437.5" r="1.25" fill="#fff" stroke="#333" stroke-width="0.6"/>
<circle cx="259.9" cy="445" r="1.25" fill="#fff" stroke="#333" stroke-width="0.6"/>
<circle cx="259.9" cy="459" r="1.25" fill="#fff" stroke="#333" stroke-width="0.6"/>
<circle cx="259.9" cy="462" r="1.25" fill="#fff" stroke="#333" stroke-width="0.6"/>
<circle cx="259.9" cy="478.6" r="1.25" fill="#fff" stroke="#333" stroke-width="0.6"/>
<line x1="287.6" y1="461.5" x2="287.6" y2="483.3" stroke="#1a1a1a" stroke-width="1.2"/>
<rect x="277.3" y="465.3" width="20.5" height="8.5" fill="#1b4f8d"/>
<line x1="277.3" y1="468" x2="297.8" y2="468" stroke="#0d2a50" stroke-width="1.4"/>
<circle cx="287.6" cy="461.5" r="1.35" fill="#111"/>
<circle cx="287.6" cy="464" r="1.35" fill="#111"/>
<circle cx="287.6" cy="467" r="1.35" fill="#111"/>
<circle cx="287.6" cy="470" r="1.35" fill="#111"/>
<circle cx="287.6" cy="473" r="1.35" fill="#111"/>
<circle cx="287.6" cy="477" r="1.35" fill="#111"/>
<circle cx="287.6" cy="483.3" r="1.35" fill="#111"/>
<line x1="243.4" y1="430.8" x2="243.4" y2="485.8" stroke="#333" stroke-width="1.1"/>
<line x1="243.4" y1="485.8" x2="303" y2="485.8" stroke="#333" stroke-width="1.1"/>
<circle cx="269.3" cy="434.1" r="1.15" fill="#1e1e1e"/>
<circle cx="273.02" cy="434.1" r="1.15" fill="#1e1e1e"/>
<circle cx="276.74" cy="434.1" r="1.15" fill="#1e1e1e"/>
<text x="331.3" y="233.5" font-size="11" fill="#111" font-weight="bold" transform="translate(-33.1,0) scale(1.1,1)">D</text>
<rect x="345.6" y="274.5" width="44.0" height="10.4" fill="#d0061f"/>
<rect x="367.8" y="274.5" width="21.80000000000001" height="10.4" fill="#1a4f8a"/>
<rect x="345.6" y="274.5" width="44.0" height="10.4" fill="none" stroke="#222" stroke-width="1"/>
<rect x="345.6" y="289" width="44.0" height="18" fill="#64287e"/>
<rect x="367.8" y="289" width="21.80000000000001" height="18" fill="#60206f"/>
<rect x="392.3" y="289" width="12.1" height="18" fill="#ffffff"/>
<text x="407.2" y="301.03" font-size="8.8" fill="#2a2a2a" stroke="#2a2a2a" stroke-width="0.15" font-style="italic">Ifi35</text>
<rect x="345.6" y="307" width="44.0" height="18" fill="#139a9c"/>
<rect x="367.8" y="307" width="21.80000000000001" height="18" fill="#5d4382"/>
<rect x="392.3" y="307" width="12.1" height="18" fill="#f0704a"/>
<polygon points="398.40,314.09 399.01,315.55 400.59,315.68 399.38,316.71 399.75,318.25 398.40,317.42 397.05,318.25 397.42,316.71 396.21,315.68 397.79,315.55" fill="#1a0a08"/>
<text x="407.2" y="319.09" font-size="8.8" fill="#2a2a2a" stroke="#2a2a2a" stroke-width="0.15" font-style="italic">Ifi44</text>
<rect x="345.6" y="325" width="44.0" height="18" fill="#72c094"/>
<rect x="367.8" y="325" width="21.80000000000001" height="18" fill="#14a0a0"/>
<rect x="392.3" y="325" width="12.1" height="18" fill="#ffffff"/>
<text x="407.2" y="337.15" font-size="8.8" fill="#2a2a2a" stroke="#2a2a2a" stroke-width="0.15" font-style="italic">Ifit1</text>
<rect x="345.6" y="343" width="44.0" height="18" fill="#4f6694"/>
<rect x="367.8" y="343" width="21.80000000000001" height="18" fill="#5d4e8c"/>
<rect x="392.3" y="343" width="12.1" height="18" fill="#ffffff"/>
<text x="407.2" y="355.21" font-size="8.8" fill="#2a2a2a" stroke="#2a2a2a" stroke-width="0.15" font-style="italic">Isg15</text>
<rect x="345.6" y="361" width="44.0" height="18" fill="#d2d066"/>
<rect x="367.8" y="361" width="21.80000000000001" height="18" fill="#3a7c98"/>
<rect x="392.3" y="361" width="12.1" height="18" fill="#f9cdbf"/>
<polygon points="398.40,368.27 399.01,369.73 400.59,369.86 399.38,370.89 399.75,372.43 398.40,371.60 397.05,372.43 397.42,370.89 396.21,369.86 397.79,369.73" fill="#1a0a08"/>
<text x="407.2" y="373.27" font-size="8.8" fill="#2a2a2a" stroke="#2a2a2a" stroke-width="0.15" font-style="italic">Mx1</text>
<rect x="345.6" y="379" width="44.0" height="18" fill="#c8d070"/>
<rect x="367.8" y="379" width="21.80000000000001" height="18" fill="#208a96"/>
<rect x="392.3" y="379" width="12.1" height="18" fill="#f9cdbf"/>
<polygon points="398.40,386.33 399.01,387.79 400.59,387.92 399.38,388.95 399.75,390.49 398.40,389.66 397.05,390.49 397.42,388.95 396.21,387.92 397.79,387.79" fill="#1a0a08"/>
<text x="407.2" y="391.33" font-size="8.8" fill="#2a2a2a" stroke="#2a2a2a" stroke-width="0.15" font-style="italic">Mx2</text>
<rect x="345.6" y="397" width="44.0" height="18" fill="#1a9a9e"/>
<rect x="367.8" y="397" width="21.80000000000001" height="18" fill="#5a2a78"/>
<rect x="392.3" y="397" width="12.1" height="18" fill="#f08c6c"/>
<polygon points="398.40,404.39 399.01,405.85 400.59,405.98 399.38,407.01 399.75,408.55 398.40,407.72 397.05,408.55 397.42,407.01 396.21,405.98 397.79,405.85" fill="#1a0a08"/>
<text x="407.2" y="409.39" font-size="8.8" fill="#2a2a2a" stroke="#2a2a2a" stroke-width="0.15" font-style="italic">Oas2</text>
<rect x="345.6" y="415" width="44.0" height="18" fill="#d0d36a"/>
<rect x="367.8" y="415" width="21.80000000000001" height="18" fill="#3a8a9c"/>
<rect x="392.3" y="415" width="12.1" height="18" fill="#f6b7a2"/>
<polygon points="398.40,422.45 399.01,423.91 400.59,424.04 399.38,425.07 399.75,426.61 398.40,425.78 397.05,426.61 397.42,425.07 396.21,424.04 397.79,423.91" fill="#1a0a08"/>
<text x="407.2" y="427.44999999999993" font-size="8.8" fill="#2a2a2a" stroke="#2a2a2a" stroke-width="0.15" font-style="italic">Usp18</text>
<rect x="345.6" y="433" width="44.0" height="18" fill="#3a78a0"/>
<rect x="367.8" y="433" width="21.80000000000001" height="18" fill="#5c3585"/>
<rect x="392.3" y="433" width="12.1" height="18" fill="#ef7855"/>
<polygon points="398.40,440.51 399.01,441.97 400.59,442.10 399.38,443.13 399.75,444.67 398.40,443.84 397.05,444.67 397.42,443.13 396.21,442.10 397.79,441.97" fill="#1a0a08"/>
<text x="407.2" y="445.51" font-size="8.8" fill="#2a2a2a" stroke="#2a2a2a" stroke-width="0.15" font-style="italic">Xaf1</text>
<rect x="345.6" y="288.9" width="44.0" height="162.54" fill="none" stroke="#222" stroke-width="1"/>
<rect x="392.3" y="288.9" width="12.1" height="162.54" fill="none" stroke="#222" stroke-width="1"/>
<text x="447.8" y="281.5" font-size="8.4" fill="#333" stroke="#333" stroke-width="0.15" textLength="23.1" lengthAdjust="spacingAndGlyphs">Origin</text>
<rect x="447.8" y="285.3" width="10.2" height="10.2" fill="#1a4f8a"/>
<text x="463.7" y="294.1" font-size="8.7" fill="#333" stroke="#333" stroke-width="0.15" textLength="21.6" lengthAdjust="spacingAndGlyphs">Tbx21</text>
<text x="486.6" y="290.9" font-size="6.4" fill="#333" stroke="#333" stroke-width="0.15" textLength="8.4" lengthAdjust="spacingAndGlyphs">−/−</text>
<rect x="447.8" y="298.9" width="10.2" height="10.2" fill="#d0061f"/>
<text x="463.7" y="307.3" font-size="8.7" fill="#333" stroke="#333" stroke-width="0.15" textLength="21.6" lengthAdjust="spacingAndGlyphs">Tbx21</text>
<text x="487.1" y="304.3" font-size="6.4" fill="#333" stroke="#333" stroke-width="0.15" textLength="9.2" lengthAdjust="spacingAndGlyphs">+/+</text>
<text x="447.9" y="335.9" font-size="8.5" fill="#333" stroke="#333" stroke-width="0.15">q value</text>
<defs><linearGradient id="qg" x1="0" y1="0" x2="0" y2="1"><stop offset="0" stop-color="#ee3a0c"/><stop offset="0.16" stop-color="#f0683a"/><stop offset="0.35" stop-color="#f8b296"/><stop offset="0.52" stop-color="#fde9e2"/><stop offset="0.6" stop-color="#ffffff"/><stop offset="1" stop-color="#ffffff"/></linearGradient><linearGradient id="vg" x1="0" y1="0" x2="1" y2="0"><stop offset="0" stop-color="#4a1a70"/><stop offset="0.15" stop-color="#541e78"/><stop offset="0.3" stop-color="#56408a"/><stop offset="0.45" stop-color="#3a6a98"/><stop offset="0.6" stop-color="#2a8a9a"/><stop offset="0.7" stop-color="#1aa0a0"/><stop offset="0.76" stop-color="#50b880"/><stop offset="0.81" stop-color="#d8e030"/><stop offset="0.86" stop-color="#f8e818"/><stop offset="1" stop-color="#f8e818"/></linearGradient></defs>
<rect x="447.3" y="341.6" width="11.3" height="42" fill="url(#qg)" stroke="#333" stroke-width="0.9"/>
<line x1="447.3" y1="342.0" x2="458.6" y2="342.0" stroke="#8a1a08" stroke-width="1.2"/>
<line x1="447.3" y1="356.3" x2="449" y2="356.3" stroke="#333" stroke-width="0.8"/>
<line x1="456.9" y1="356.3" x2="458.6" y2="356.3" stroke="#333" stroke-width="0.8"/>
<line x1="447.3" y1="365.2" x2="449" y2="365.2" stroke="#333" stroke-width="0.8"/>
<line x1="456.9" y1="365.2" x2="458.6" y2="365.2" stroke="#333" stroke-width="0.8"/>
<path d="M458.6 342.6 L463.4 342.6 L467.2 344.6" fill="none" stroke="#333" stroke-width="0.8"/>
<text x="468.6" y="347.20000000000005" font-size="8.6" fill="#333" stroke="#333" stroke-width="0.15">0.0001</text>
<path d="M458.6 356.3 L467.2 356.3" fill="none" stroke="#333" stroke-width="0.8"/>
<text x="468.6" y="358.90000000000003" font-size="8.6" fill="#333" stroke="#333" stroke-width="0.15">0.001</text>
<path d="M458.6 365.2 L462.5 365.2 Q464.5 365.4 467.2 368.3" fill="none" stroke="#333" stroke-width="0.8"/>
<text x="468.6" y="370.90000000000003" font-size="8.6" fill="#333" stroke="#333" stroke-width="0.15">0.05</text>
<path d="M458.6 383.2 L462.5 383.2 Q464.5 383 467.2 380.7" fill="none" stroke="#333" stroke-width="0.8"/>
<text x="468.6" y="383.3" font-size="8.6" fill="#333" stroke="#333" stroke-width="0.15">1</text>
<rect x="448.1" y="389.9" width="10.3" height="10.3" fill="#fff" stroke="#222" stroke-width="0.9"/>
<polygon points="453.30,393.10 453.88,394.50 455.39,394.62 454.24,395.61 454.59,397.08 453.30,396.29 452.01,397.08 452.36,395.61 451.21,394.62 452.72,394.50" fill="#111"/>
<text x="462.7" y="398.2" font-size="8.6" fill="#333" stroke="#333" stroke-width="0.15" textLength="23.4" lengthAdjust="spacingAndGlyphs">&lt; 0.05</text>
<text x="448" y="430.6" font-size="8.2" fill="#333" stroke="#333" stroke-width="0.15" textLength="28.8" lengthAdjust="spacingAndGlyphs">Log2FC</text>
<rect x="448" y="433.6" width="28.7" height="10.8" fill="url(#vg)"/>
<text x="449.1" y="454.3" font-size="8.2" fill="#333" stroke="#333" stroke-width="0.15" text-anchor="middle">2</text>
<text x="457.8" y="454.3" font-size="8.2" fill="#333" stroke="#333" stroke-width="0.15" text-anchor="middle">4</text>
<text x="466.4" y="454.3" font-size="8.2" fill="#333" stroke="#333" stroke-width="0.15" text-anchor="middle">6</text>
<text x="475.6" y="454.3" font-size="8.2" fill="#333" stroke="#333" stroke-width="0.15" text-anchor="middle">8</text>
<rect x="0.5" y="0.5" width="519" height="492" fill="none" stroke="#4a4a4a" stroke-width="1"/>
</svg>
</body></html>
